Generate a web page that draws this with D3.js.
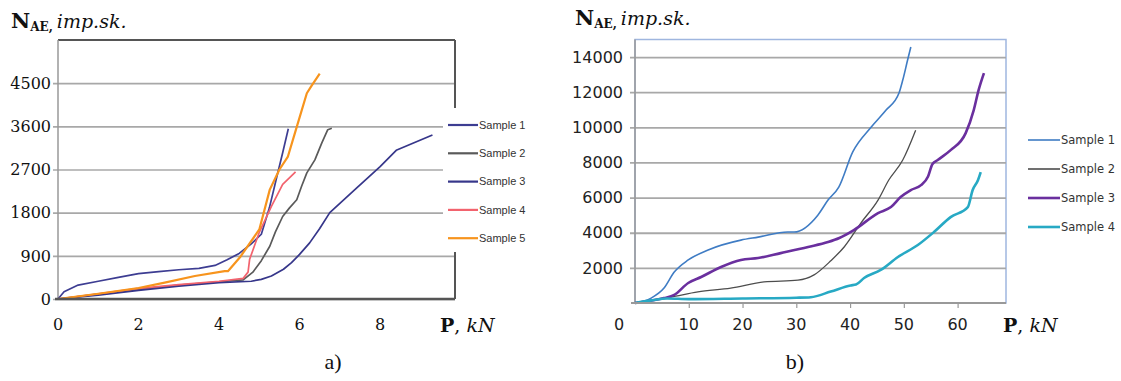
<!DOCTYPE html>
<html><head><meta charset="utf-8">
<script src="https://cdn.jsdelivr.net/npm/d3@7"></script>
<style>html,body{margin:0;padding:0;background:#fff;} svg{display:block;}</style>
</head><body>
<svg id="c" width="1121" height="381"></svg>
<script>
// ---------- DATA (chart a: P in kN, N_AE in imp.sk.) ----------
const aNames = ["Sample 1","Sample 2","Sample 3","Sample 4","Sample 5"];
const aColors = ["#3d3d92","#5a5a5a","#36368a","#f2636e","#f7941d"];
const aXTicks = [0,2,4,6,8];
const aYTicks = [0,900,1800,2700,3600,4500];
const a_sample1 = [[0,0],[0.15,150],[0.5,290],[1,370],[1.5,450],[2,530],[2.5,570],[3,610],[3.5,640],[3.9,700],[4.2,820],[4.5,950],[4.8,1150],[5.05,1350],[5.25,1900],[5.45,2600],[5.58,3050],[5.72,3550]];
const a_sample2 = [[0,0],[0.5,50],[1,100],[2,200],[3,290],[4,360],[4.6,400],[4.84,560],[5.05,800],[5.26,1100],[5.4,1400],[5.58,1720],[5.75,1900],[5.93,2070],[6.05,2350],[6.18,2630],[6.38,2900],[6.55,3250],[6.7,3530],[6.8,3560]];
const a_sample3 = [[0,0],[1,80],[2,180],[3,270],[4,340],[4.8,370],[5.05,410],[5.3,480],[5.6,620],[5.8,760],[6,930],[6.25,1170],[6.5,1470],[6.75,1800],[7.4,2300],[8,2760],[8.4,3100],[9.3,3420]];
const a_sample4 = [[0,0],[1,110],[2,220],[3,300],[4,370],[4.6,430],[4.72,560],[4.76,830],[5.0,1390],[5.3,1930],[5.58,2390],[5.9,2650]];
const a_sample5 = [[0,0],[1,110],[2,230],[2.65,340],[3.4,480],[4.14,580],[4.22,580],[4.52,870],[5.0,1450],[5.26,2280],[5.5,2700],[5.71,2970],[5.93,3590],[6.18,4290],[6.3,4450],[6.5,4700]];

// ---------- DATA (chart b) ----------
const bNames = ["Sample 1","Sample 2","Sample 3","Sample 4"];
const bColors = ["#3f7cc4","#4d4d4d","#6a2f9e","#27a9c4"];
const bWidths = [1.6,1.3,2.6,2.6];
const bXTicks = [0,10,20,30,40,50,60];
const bYTicks = [2000,4000,6000,8000,10000,12000,14000];
const b_sample1 = [[0,0],[3,280],[5.4,850],[7.3,1760],[9.9,2450],[13.6,3020],[19.7,3580],[22.9,3750],[28.4,4040],[29.6,4040],[34,5000],[35.9,5860],[37.9,6600],[40.5,8600],[43.9,10000],[46.7,10980],[49.1,11950],[49.8,12690],[50.7,13830],[51.3,14570]];
const b_sample2 = [[0,0],[3,150],[6.7,340],[11.7,630],[17.8,850],[24,1200],[30.3,1300],[33.3,1600],[36.4,2400],[38.9,3190],[42,4550],[45.2,5860],[47.2,7000],[49.8,8140],[52.2,9840]];
const b_sample3 = [[0,0],[5.4,280],[7.3,460],[9.9,1140],[12.3,1480],[16,2050],[19.7,2450],[22.9,2560],[27.1,2840],[32.2,3190],[35.9,3470],[38,3700],[40.7,4150],[45.2,5120],[47.6,5460],[49.4,6030],[51.3,6430],[53.2,6710],[54.5,7200],[55.3,7900],[56.3,8140],[58.7,8700],[61.5,9670],[63,10980],[63.9,12120],[64.9,13090]];
const b_sample4 = [[0,0],[3,150],[6,260],[10,220],[20,260],[30,300],[32.7,330],[36.4,650],[40.1,1000],[41.1,1050],[42.6,1420],[45.7,1880],[48.9,2620],[52.6,3300],[55.6,4040],[58.7,4890],[61.9,5460],[62.8,6430],[63.8,7000],[64.3,7450]];

const aSeries = [a_sample1,a_sample2,a_sample3,a_sample4,a_sample5];
const bSeries = [b_sample1,b_sample2,b_sample3,b_sample4];

const svg = d3.select("#c");

function title(x, y) {
  const t = svg.append("text").attr("x", x).attr("y", y).attr("fill", "#111")
    .style("font-family", "'DejaVu Serif', serif");
  t.append("tspan").attr("font-size", 21).attr("font-weight", "bold").text("N");
  t.append("tspan").attr("font-size", 12).attr("font-weight", "bold").attr("dy", 3).text("AE,");
  t.append("tspan").attr("font-size", 19).attr("font-style", "italic").attr("dy", -3).attr("dx", 4).text("imp.sk.");
}
function pLabel(x, y) {
  const t = svg.append("text").attr("x", x).attr("y", y).attr("fill", "#111")
    .style("font-family", "'DejaVu Serif', serif").attr("font-size", 19);
  t.append("tspan").attr("font-weight", "bold").text("P");
  t.append("tspan").text(", ");
  t.append("tspan").attr("font-style", "italic").text("kN");
}

// ================= CHART A =================
{
  const x = d3.scaleLinear().domain([0, 9.86]).range([58, 455]);
  const y = d3.scaleLinear().domain([0, 5400]).range([299, 40]);
  const g = svg.append("g");
  g.append("g").attr("transform", `translate(${x(0)},0)`)
    .call(d3.axisLeft(y).tickValues(aYTicks).tickSize(-(x.range()[1]-x(0))).tickSizeOuter(0).tickFormat(""))
    .call(s => s.select(".domain").remove())
    .call(s => s.selectAll("line").attr("stroke", "#a8a8a8").attr("stroke-width", 1.6).attr("x1", -5));
  g.append("g").selectAll("text").data(aYTicks).join("text")
    .attr("x", 51).attr("y", d => y(d)).attr("dy", "0.36em").attr("text-anchor", "end")
    .style("font-family", "'DejaVu Serif', serif").attr("font-size", 16).attr("fill", "#111").text(d => d);
  g.append("g").selectAll("text").data(aXTicks).join("text")
    .attr("x", d => x(d)).attr("y", 330).attr("text-anchor", "middle")
    .style("font-family", "'DejaVu Serif', serif").attr("font-size", 16).attr("fill", "#111").text(d => d);
  g.append("line").attr("x1", x(0)).attr("x2", x.range()[1]).attr("y1", y.range()[1]).attr("y2", y.range()[1]).attr("stroke", "#555").attr("stroke-width", 2.2);
  g.append("line").attr("x1", x.range()[1]).attr("x2", x.range()[1]).attr("y1", y.range()[1]).attr("y2", y(0)).attr("stroke", "#555").attr("stroke-width", 2);
  g.append("line").attr("x1", x(0)).attr("x2", x(0)).attr("y1", y.range()[1]).attr("y2", y(0)).attr("stroke", "#999").attr("stroke-width", 1.5);
  const line = d3.line().x(d => x(d[0])).y(d => y(d[1]));
  aSeries.forEach((s, i) => {
    g.append("path").datum(s).attr("d", line).attr("fill", "none")
      .attr("stroke", aColors[i]).attr("stroke-width", i === 4 ? 2.2 : 1.7).attr("stroke-linejoin", "round");
  });
  g.append("line").attr("x1", x(0) - 3).attr("x2", x.range()[1]).attr("y1", y(0)).attr("y2", y(0)).attr("stroke", "#555").attr("stroke-width", 2.4);
  g.append("rect").attr("x", 443).attr("y", 108).attr("width", 95).attr("height", 144).attr("fill", "#fff");
  const leg = g.append("g");
  aNames.forEach((n, i) => {
    const yy = 125 + i * 28.3;
    leg.append("line").attr("x1", 448).attr("x2", 478).attr("y1", yy).attr("y2", yy).attr("stroke", aColors[i]).attr("stroke-width", 2.2);
    leg.append("text").attr("x", 479).attr("y", yy).attr("dy", "0.35em")
      .style("font-family", "'Liberation Sans', Arial, sans-serif").attr("font-size", 11).attr("fill", "#333").text(n);
  });
  title(11, 28);
  pLabel(440, 332);
  svg.append("text").attr("x", 333).attr("y", 369).attr("text-anchor", "middle")
    .style("font-family", "'Liberation Serif', serif").attr("font-size", 22).attr("fill", "#111").text("a)");
}

// ================= CHART B =================
{
  const x = d3.scaleLinear().domain([0, 69]).range([635, 1006]);
  const y = d3.scaleLinear().domain([0, 15000]).range([303, 39.5]);
  const g = svg.append("g");
  g.append("rect").attr("x", x(0)).attr("y", y.range()[1]).attr("width", x.range()[1] - x(0)).attr("height", y(0) - y.range()[1])
    .attr("fill", "#fff").attr("stroke", "#9fb6df").attr("stroke-width", 1.5);
  g.append("g").attr("transform", `translate(${x(0)},0)`)
    .call(d3.axisLeft(y).tickValues(bYTicks).tickSize(-(x.range()[1]-x(0))).tickSizeOuter(0).tickFormat(""))
    .call(s => s.select(".domain").remove())
    .call(s => s.selectAll("line").attr("stroke", "#a8a8a8").attr("stroke-width", 1.8).attr("x1", -5));
  g.append("g").selectAll("text").data(bYTicks).join("text")
    .attr("x", 623).attr("y", d => y(d)).attr("dy", "0.36em").attr("text-anchor", "end")
    .style("font-family", "'DejaVu Sans', sans-serif").attr("font-size", 16).attr("fill", "#222").text(d => d);
  g.append("g").attr("transform", `translate(0,${y(0)})`)
    .call(d3.axisBottom(x).tickValues(bXTicks.slice(1)).tickSize(5).tickSizeOuter(0).tickFormat(""))
    .call(s => s.select(".domain").remove())
    .call(s => s.selectAll("line").attr("stroke", "#999").attr("stroke-width", 1.2));
  g.append("g").selectAll("text").data(bXTicks).join("text")
    .attr("x", d => x(d) - (d === 0 ? 16 : 0)).attr("y", 330).attr("text-anchor", "middle")
    .style("font-family", "'DejaVu Sans', sans-serif").attr("font-size", 16).attr("fill", "#222").text(d => d);
  g.append("line").attr("x1", x(0)).attr("x2", x(0)).attr("y1", y.range()[1]).attr("y2", y(0)).attr("stroke", "#999").attr("stroke-width", 1.5);
  const line = d3.line().x(d => x(d[0])).y(d => y(d[1])).curve(d3.curveMonotoneX);
  bSeries.forEach((s, i) => {
    g.append("path").datum(s).attr("d", line).attr("fill", "none")
      .attr("stroke", bColors[i]).attr("stroke-width", bWidths[i]).attr("stroke-linejoin", "round");
  });
  g.append("line").attr("x1", x(0) - 4).attr("x2", x.range()[1]).attr("y1", y(0)).attr("y2", y(0)).attr("stroke", "#999").attr("stroke-width", 2);
  bNames.forEach((n, i) => {
    const yy = 140 + i * 29;
    g.append("line").attr("x1", 1028).attr("x2", 1060).attr("y1", yy).attr("y2", yy).attr("stroke", bColors[i]).attr("stroke-width", bWidths[i] < 2 ? 1.6 : 2.6);
    g.append("text").attr("x", 1061).attr("y", yy).attr("dy", "0.35em")
      .style("font-family", "'DejaVu Sans', sans-serif").attr("font-size", 11.5).attr("fill", "#333").text(n);
  });
  title(575, 25);
  pLabel(1003, 332);
  svg.append("text").attr("x", 795).attr("y", 369).attr("text-anchor", "middle")
    .style("font-family", "'Liberation Serif', serif").attr("font-size", 22).attr("fill", "#111").text("b)");
}
</script>
</body></html>
